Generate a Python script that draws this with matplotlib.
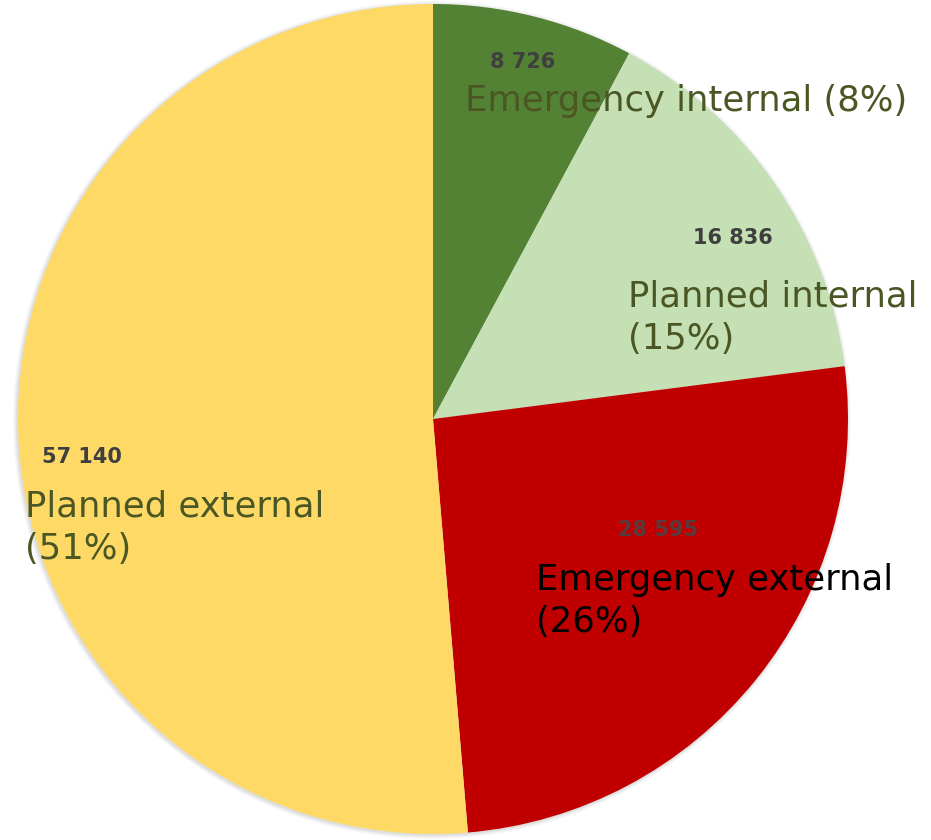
import matplotlib
matplotlib.use("Agg")
import matplotlib.pyplot as plt
from matplotlib.patches import Circle

categories = ["Emergency internal", "Planned internal", "Emergency external", "Planned external"]
values = [8726, 16836, 28595, 57140]
colors = ["#548235", "#C5E0B4", "#C00000", "#FFD966"]

# label layout (pixel coords from top-left)
value_pos = [(490, 62), (693, 238), (618, 530), (42, 457)]
cat_pos = [(465, 101), (628, 318), (536, 601), (25, 528)]
cat_wrap = [False, True, True, True]
cat_colors = ["#4A5724", "#4A5724", "#000000", "#4A5724"]
value_colors = ["#3F3F3F", "#3F3F3F", "#5A3A3A", "#3F3F3F"]

W, H = 931, 840
fig = plt.figure(figsize=(W / 100, H / 100), dpi=100)
ax = fig.add_axes([0, 0, 1, 1])

cx0, cy0, r0 = 433, H - 419, 415
# soft shadow
for dr, a in [(4, 0.06), (2.5, 0.08), (1.2, 0.12)]:
    ax.add_patch(Circle((cx0 - 1, cy0 - 1), r0 + dr, color="#808080", alpha=a, lw=0, zorder=0))

ax.pie(values, colors=colors, startangle=90, counterclock=False,
       center=(cx0, cy0), radius=r0, frame=True,
       wedgeprops=dict(linewidth=0))
ax.set_xlim(0, W)
ax.set_ylim(0, H)
ax.set_aspect("equal")
ax.axis("off")

total = sum(values)
for i, (cat, v) in enumerate(zip(categories, values)):
    pct = round(100 * v / total)
    vs = f"{v:,}".replace(",", " ")
    vx, vy = value_pos[i]
    ax.text(vx, H - vy, vs, fontsize=15, fontweight="bold", family="DejaVu Sans",
            color=value_colors[i], ha="left", va="center", zorder=5)
    sep = "\n" if cat_wrap[i] else " "
    cx, cy = cat_pos[i]
    ax.text(cx, H - cy, f"{cat}{sep}({pct}%)", fontsize=25.5, family="DejaVu Sans",
            color=cat_colors[i], ha="left", va="center", linespacing=1.32, zorder=5)

fig.savefig("out.png", dpi=100)
